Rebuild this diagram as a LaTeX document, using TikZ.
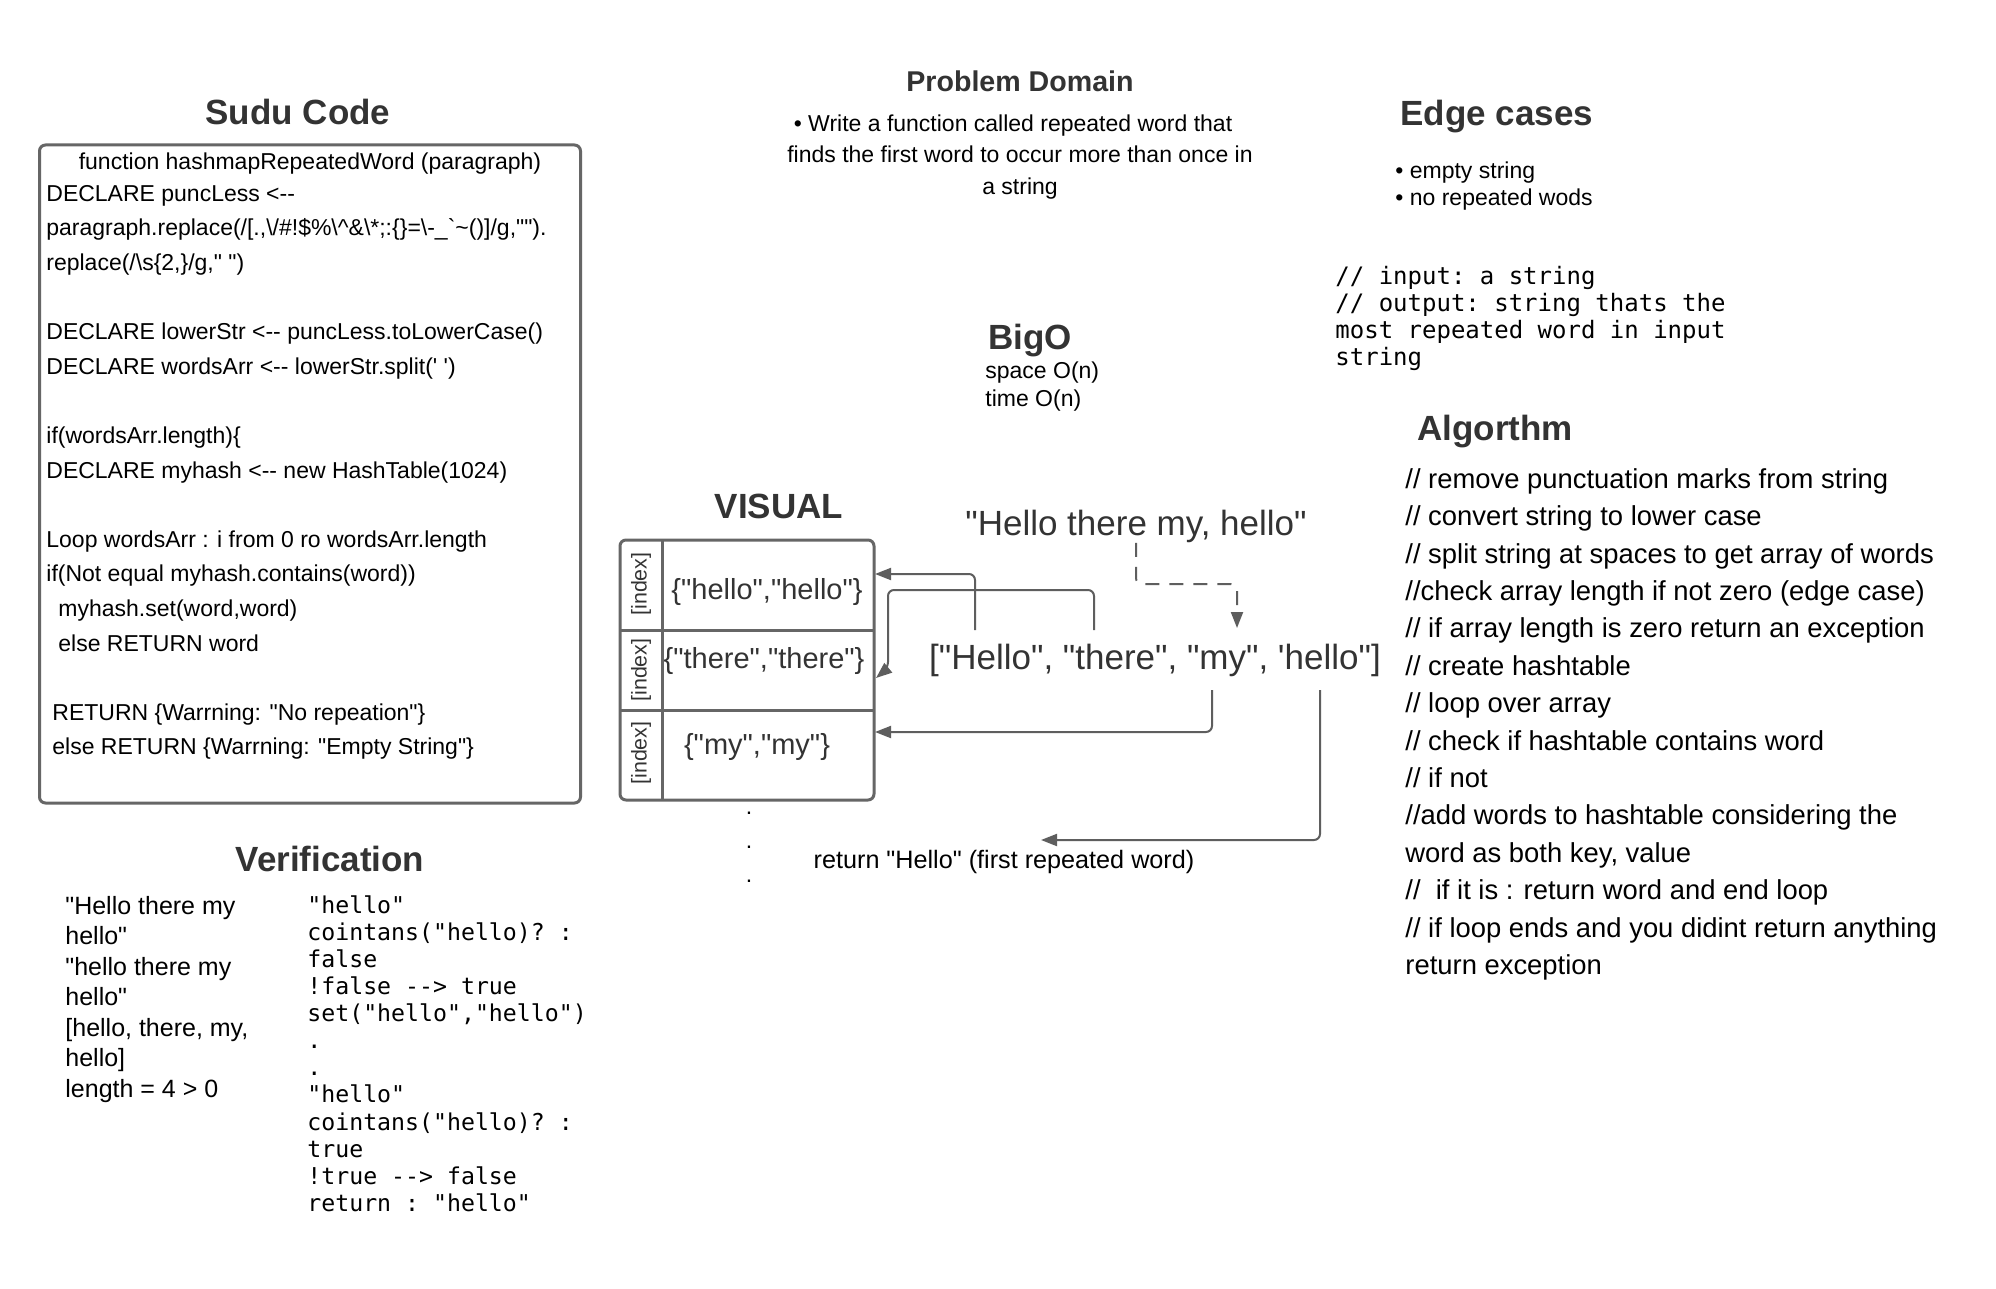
\documentclass[tikz,border=0pt]{standalone}
\usepackage{fontspec}
\setmainfont{Liberation Sans}[Ligatures=TeXOff]
\setmonofont{DejaVu Sans Mono}
\usetikzlibrary{arrows.meta}

\definecolor{headgray}{HTML}{333333}
\definecolor{linegray}{HTML}{5E5E5E}
\definecolor{boxgray}{HTML}{666666}
\newcommand\setfs[1]{\fontsize{#1}{#1}\selectfont}

\tikzset{
  head/.style={font=\bfseries\setfs{17.5}, text=headgray, inner sep=0, anchor=mid, yshift=-2pt},
  txt/.style={font=\setfs{11.5}, inner sep=0, anchor=mid west, yshift=-2pt},
  mono/.style={font=\ttfamily\setfs{12}, inner sep=0, anchor=mid west, yshift=-2pt},
  cell/.style={font=\setfs{14.5}, text=headgray, inner sep=0, anchor=mid, yshift=-0.7pt},
  frame/.style={draw=boxgray, line width=1.5pt, rounded corners=3pt, inner sep=0},
  conn/.style={draw=linegray, line width=1pt, rounded corners=3pt, ->},
}

\begin{document}
\begin{tikzpicture}[x=0.5pt, y=-0.5pt, >={Triangle[length=8pt,width=6pt]}]
\fill[white] (0,0) rectangle (1996,1289);

% sudo code
\node[head] (sudutitle) at (298,115) {Sudu Code};
\node[frame, minimum width=270.5pt, minimum height=329pt] (sudubox) at (310,474) {};
\node[txt, anchor=mid] (sudufn) at (310,160) {function hashmapRepeatedWord (paragraph)};
\foreach \ltext [count=\i] in {{DECLARE puncLess <--},
  {paragraph.replace(/[.,\textbackslash/\#!\$\%\textbackslash\textasciicircum\&\textbackslash*;:\{\}=\textbackslash-\_`\textasciitilde()]/g,"").},
  {replace(/\textbackslash s\{2,\}/g," ")},{},
  {DECLARE lowerStr <-- puncLess.toLowerCase()},
  {DECLARE wordsArr <-- lowerStr.split(' ')},{},
  {if(wordsArr.length)\{},
  {DECLARE myhash <-- new HashTable(1024)},{},
  {Loop wordsArr : i from 0 ro wordsArr.length},
  {if(Not equal myhash.contains(word))},
  {\hspace{6pt}myhash.set(word,word)},
  {\hspace{6pt}else RETURN word},{},
  {\hspace{3pt}RETURN \{Warrning: "No repeation"\}},
  {\hspace{3pt}else RETURN \{Warrning: "Empty String"\}}}
  \node[txt] (sudu\i) at (46,{192+34.6*(\i-1)}) {\ltext};

% problem domain
\node[head, font=\bfseries\setfs{14.3}] (pdtitle) at (1020,82) {Problem Domain};
\node[txt, anchor=mid] (pd1) at (1013,122) {\textbullet\ Write a function called repeated word that};
\node[txt, anchor=mid] (pd2) at (1020,153) {finds the first word to occur more than once in};
\node[txt, anchor=mid] (pd3) at (1020,185) {a string};

% edge cases
\node[head, anchor=mid west] (edgetitle) at (1400,116) {Edge cases};
\node[txt] (edge1) at (1395,169) {\textbullet\ empty string};
\node[txt] (edge2) at (1395,196) {\textbullet\ no repeated wods};
\foreach \ltext [count=\i] in {{// input: a string},{// output: string thats the},
  {most repeated word in input},{string}}
  \node[mono] (io\i) at (1335,{275+27.2*(\i-1)}) {\ltext};

% big o
\node[head, anchor=mid west] (bigotitle) at (988,340) {BigO};
\node[txt] (bigo1) at (985,369) {space O(n)};
\node[txt] (bigo2) at (985,397) {time O(n)};

% algorithm
\node[head, anchor=mid west] (algotitle) at (1417,431) {Algorthm};
\foreach \ltext [count=\i] in {{// remove punctuation marks from string},
  {// convert string to lower case},
  {// split string at spaces to get array of words},
  {//check array length if not zero (edge case)},
  {// if array length is zero return an exception},
  {// create hashtable},{// loop over array},
  {// check if hashtable contains word},{// if not},
  {//add words to hashtable considering the},
  {word as both key, value},
  {//\ \ if it is : return word and end loop},
  {// if loop ends and you didint return anything},
  {return exception}}
  \node[txt, font=\setfs{13.7}] (algo\i) at (1405,{479+37.4*(\i-1)}) {\ltext};

% verification
\node[head] (vertitle) at (330,862) {Verification};
\foreach \ltext [count=\i] in {{"Hello there my},{hello"},{"hello there my},{hello"},
  {[hello, there, my,},{hello]},{length = 4 > 0}}
  \node[txt, font=\setfs{12.5}] (verl\i) at (65,{905+30.5*(\i-1)}) {\ltext};
\foreach \ltext [count=\i] in {{"hello"},{cointans("hello)? :},{false},{!false --> true},
  {set("hello","hello")},{.},{.},{"hello"},{cointans("hello)? :},{true},
  {!true --> false},{return : "hello"}}
  \node[mono, font=\ttfamily\setfs{11.6}] (verr\i) at (307,{904+27.1*(\i-1)}) {\ltext};

% visual
\node[head] (vistitle) at (779,509) {VISUAL};
\node[frame, minimum width=127pt, minimum height=130pt] (tab) at (747,670) {};
\draw[boxgray, line width=1.5pt] (662,540) -- (662,800);
\foreach \y in {630,710}
  \draw[boxgray, line width=1.5pt] (620,\y) -- (874,\y);
\foreach \y [count=\i] in {584,670,753}
  \node[rotate=90, font=\setfs{10.7}, text=headgray, inner sep=0] (idx\i) at (641,\y) {[index]};
\node[cell] (cell1) at (767,593) {\{"hello","hello"\}};
\node[cell] (cell2) at (764,662) {\{"there","there"\}};
\node[cell] (cell3) at (757,748) {\{"my","my"\}};
\foreach \y [count=\i] in {810,844,878}
  \node[txt, anchor=base, yshift=0pt] (dot\i) at (749,\y) {.};

\node[cell, font=\setfs{17.5}, yshift=-3.2pt] (src) at (1136,522) {"Hello there my, hello"};
\node[cell, font=\setfs{17.5}, yshift=-3.2pt] (arr) at (1155,656) {["Hello", "there", "my", 'hello"]};
\node[txt, font=\setfs{12.6}, anchor=mid] (ret) at (1004,859) {return "Hello" (first repeated word)};

\coordinate (wHello) at (975,630);
\coordinate (wthere) at (1094,630);
\coordinate (wmy) at (1212,690);
\coordinate (whello) at (1320,690);
\coordinate (in1) at (875,574);
\coordinate (kink) at (888,590);
\coordinate (in2) at (876,678);
\coordinate (in3) at (875,732);
\coordinate (retin) at (1041,840);
\coordinate (dk) at (1237,584);
\coordinate (myin) at (1237,628);

\draw[conn] (wHello) |- (in1);
\draw[conn] (wthere) |- (kink) -- ++(0,78) -- (in2);
\draw[conn] (wmy) |- (in3);
\draw[conn] (whello) |- (retin);
\draw[conn, dash pattern=on 7pt off 5pt] (src.south) |- (dk) -- (myin);
\end{tikzpicture}
\end{document}
